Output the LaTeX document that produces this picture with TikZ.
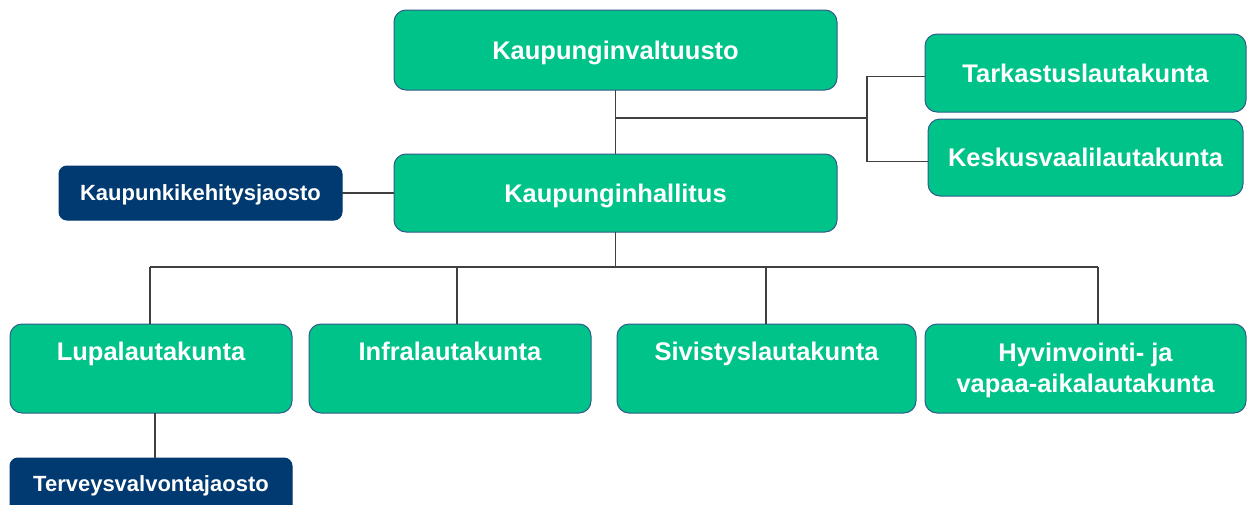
\documentclass[tikz,border=0pt]{standalone}
\usepackage{fontspec}
\setmainfont{Liberation Sans}
\definecolor{boxgreen}{HTML}{00C389}
\definecolor{boxblue}{HTML}{003A70}
\definecolor{boxedge}{HTML}{2F5C8A}
\definecolor{linegray}{HTML}{404040}
\begin{document}
\begin{tikzpicture}[x=1pt,y=-1pt,
  gbox/.style={draw=boxedge, line width=1pt, fill=boxgreen, rounded corners=12pt,
    inner sep=0pt, outer sep=0pt, text=white, align=center,
    font=\fontsize{25.5}{31}\selectfont\bfseries, text height=18.3pt, text depth=0pt},
  bbox/.style={draw=boxblue, line width=1pt, fill=boxblue, rounded corners=8pt,
    inner sep=0pt, outer sep=0pt, text=white,
    font=\fontsize{22}{27}\selectfont\bfseries, text height=15.75pt, text depth=0pt},
  glbl/.style={text=white, inner sep=0pt, align=center, anchor=north,
    font=\fontsize{25.5}{31}\selectfont\bfseries},
  blbl/.style={text=white, inner sep=0pt, align=center, anchor=north,
    font=\fontsize{22}{27}\selectfont\bfseries},
  conn/.style={draw=linegray, line width=1.3pt}]
\useasboundingbox (0,0) rectangle (1254,504);
\clip (0,0) rectangle (1254,504);
\fill[white] (0,0) rectangle (1254,504);

% top boxes
\node[gbox, minimum width=443, minimum height=80] (valt) at (615.5,50) {Kaupunginvaltuusto};
\node[gbox, minimum width=443, minimum height=78] (hall) at (615.5,193) {Kaupunginhallitus};
\node[gbox, minimum width=321, minimum height=78] (tark) at (1085.5,73) {Tarkastuslautakunta};
\node[gbox, minimum width=315, minimum height=77] (kesk) at (1085.5,157.5) {Keskusvaalilautakunta};
\node[bbox, minimum width=283, minimum height=54] (kehit) at (200.5,193) {Kaupunkikehitysjaosto};

% bottom boxes
\node[gbox, minimum width=282, minimum height=89] (lupa) at (151,368.5) {};
\node[glbl] (lupat) at (151,342) {Lupalautakunta};
\node[gbox, minimum width=282, minimum height=89] (infra) at (450,368.5) {};
\node[glbl] (infrat) at (450,342) {Infralautakunta};
\node[gbox, minimum width=299, minimum height=89] (siv) at (766.5,368.5) {};
\node[glbl] (sivt) at (766.5,342) {Sivistyslautakunta};
\node[gbox, minimum width=321, minimum height=89] (hyv) at (1085.5,368.5) {};
\node[glbl] (hyvt) at (1085.5,342.5) {Hyvinvointi- ja\\vapaa-aikalautakunta};

\node[bbox, anchor=north, minimum width=282, minimum height=80] (terv) at (151,458) {};
\node[blbl] (tervt) at (151,475) {Terveysvalvontajaosto};

% connectors
\draw[conn] (valt.south) -- (hall.north);
\coordinate (j1) at (615.5,118);
\coordinate (brk) at (867,118);
\draw[conn] (j1) -- (brk);
\draw[conn] ([yshift=-3.5pt]tark.west) -| (brk) |- ([yshift=-4pt]kesk.west);
\draw[conn] (kehit.east) -- (kehit.east -| hall.west);

\coordinate (bus) at (615.5,267);
\coordinate (b1) at (150,267);
\coordinate (b2) at (457,267);
\coordinate (b3) at (766,267);
\coordinate (b4) at (1098,267);
\draw[conn] (hall.south) -- (bus);
\draw[conn] (b1) -- (b4);
\draw[conn] (b1) -- (b1 |- lupa.north);
\draw[conn] (b2) -- (b2 |- infra.north);
\draw[conn] (b3) -- (b3 |- siv.north);
\draw[conn] (b4) -- (b4 |- hyv.north);
\draw[conn] ([xshift=4pt]lupa.south) -- ([xshift=4pt]lupa.south |- terv.north);
\end{tikzpicture}
\end{document}
